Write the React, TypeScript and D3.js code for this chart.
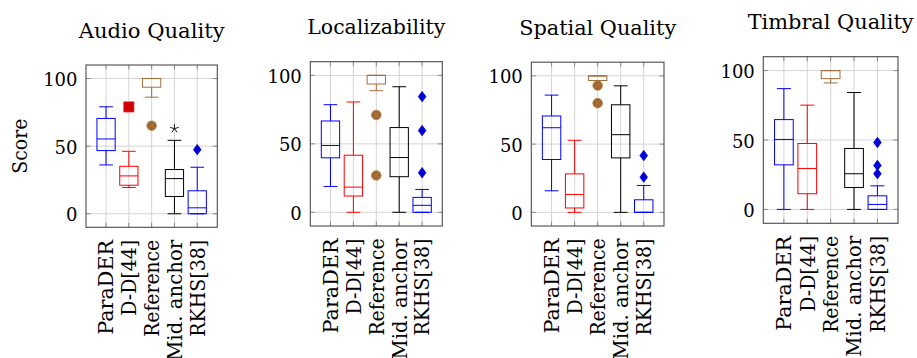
import React from "react";
import * as d3 from "d3";

const categories = ["ParaDER", "D-D[44]", "Reference", "Mid. anchor", "RKHS[38]"];
const yTicks = [0, 50, 100];
const titles = ["Audio Quality", "Localizability", "Spatial Quality", "Timbral Quality"];

// Audio Quality
const aqLower = [36.1, 19.4, 86.2, 0, 0];
const aqQ1 = [46.7, 21.1, 93.6, 12.8, 0];
const aqMedian = [55.3, 28, 100, 26, 4.4];
const aqQ3 = [70.5, 35.1, 100, 32.7, 17];
const aqUpper = [79.1, 46.2, 100, 54.3, 34.4];
const aqOutliers = [[], [79], [65.1], [62.9], [47.4]];

// Localizability
const loLower = [18.9, 0, 88.8, 0, 0];
const loQ1 = [39.8, 11.9, 93.7, 26, 0];
const loMedian = [48.8, 18.4, 100, 40, 5.1];
const loQ3 = [66.7, 41.7, 100, 61.9, 10.9];
const loUpper = [78.6, 80.6, 100, 91.7, 16.7];
const loOutliers = [[], [], [71.1, 26.9], [], [84.5, 59.7, 28.9]];

// Spatial Quality
const spLower = [15.8, 0, 96.6, 0, 0];
const spQ1 = [38.7, 3.2, 96.6, 39.9, 0];
const spMedian = [62, 13.1, 100, 56.9, 0];
const spQ3 = [70.6, 28.2, 100, 78.8, 9.2];
const spUpper = [85.9, 52.8, 100, 92.7, 19.7];
const spOutliers = [[], [], [92.9, 80], [], [41.6, 25.8]];

// Timbral Quality
const tiLower = [0, 0, 91.1, 0, 0];
const tiQ1 = [32.1, 11.3, 94.2, 15.8, 0];
const tiMedian = [50.4, 29.5, 100, 25.7, 3.6];
const tiQ3 = [64.7, 47.5, 100, 43.9, 9.8];
const tiUpper = [87, 75.1, 100, 84.2, 17];
const tiOutliers = [[], [], [], [], [48.2, 31.7, 25.7]];

const panelData = [
  { lower: aqLower, q1: aqQ1, median: aqMedian, q3: aqQ3, upper: aqUpper, outliers: aqOutliers },
  { lower: loLower, q1: loQ1, median: loMedian, q3: loQ3, upper: loUpper, outliers: loOutliers },
  { lower: spLower, q1: spQ1, median: spMedian, q3: spQ3, upper: spUpper, outliers: spOutliers },
  { lower: tiLower, q1: tiQ1, median: tiMedian, q3: tiQ3, upper: tiUpper, outliers: tiOutliers },
];

const frames = [
  { left: 86, top: 65, width: 131.3, height: 162.3 },
  { left: 310.3, top: 61.7, width: 132, height: 164.3 },
  { left: 531.3, top: 62.2, width: 132.7, height: 163.8 },
  { left: 763.3, top: 56.7, width: 134.7, height: 166.6 },
];

const titleLengths = [146, 138, 157, 166];
const labelLengths = [95, 76, 97, 121, 97];

const strokeColors = ["#0000ff", "#ff0000", "#a26d3a", "#000000", "#0000ff"];
const markStroke = ["#0000ff", "#ff0000", "#bf8040", "#000000", "#0000ff"];
const markFill = ["#0000cc", "#cc0000", "#996633", "#000000", "#0000cc"];
const FONT_CSS = `text { font-family: "DejaVu Serif", "Liberation Serif", "Times New Roman", serif; }`;
const TITLE_FS = 20;
const TICK_FS = 18;
const LABEL_FS = 20;

function Marker({ kind, x, y, i }: { kind: number; x: number; y: number; i: number }) {
  const s = markStroke[i];
  const f = markFill[i];
  if (kind === 1) {
    return <rect x={x - 5} y={y - 5} width={10} height={10} fill={f} stroke={s} strokeWidth={0.8} />;
  }
  if (kind === 2) {
    const r = 4.8;
    const c = r * Math.SQRT1_2;
    return (
      <g>
        <circle cx={x} cy={y} r={r} fill={f} stroke={s} strokeWidth={0.8} />
        <path d={`M${x - c},${y - c}L${x + c},${y + c}M${x - c},${y + c}L${x + c},${y - c}`} stroke={s} strokeWidth={0.8} />
      </g>
    );
  }
  if (kind === 3) {
    const r = 4.5;
    const pts = d3.range(5).map((k) => {
      const a = -Math.PI / 2 + (k * 2 * Math.PI) / 5;
      return `M${x},${y}L${x + r * Math.cos(a)},${y + r * Math.sin(a)}`;
    });
    return <path d={pts.join("")} stroke="#000" strokeWidth={0.9} fill="none" />;
  }
  if (kind === 4) {
    const w = 3.8;
    const h = 5.2;
    return <path d={`M${x},${y - h}L${x + w},${y}L${x},${y + h}L${x - w},${y}Z`} fill={f} stroke={s} strokeWidth={0.8} />;
  }
  return <circle cx={x} cy={y} r={4} fill={f} stroke={s} />;
}

function Panel({ idx }: { idx: number }) {
  const fr = frames[idx];
  const data = panelData[idx];
  const x = d3.scaleLinear().domain([0.12, 5.88]).range([fr.left, fr.left + fr.width]);
  const y = d3.scaleLinear().domain([-10, 110]).range([fr.top + fr.height, fr.top]);
  const unit = x(2) - x(1);
  const bw = unit * 0.8;
  const cw = unit * 0.6;
  const positions = categories.map((_, i) => i + 1);
  const bottom = fr.top + fr.height;
  const right = fr.left + fr.width;
  return (
    <g>
      <text
        x={fr.left + fr.width / 2}
        y={fr.top - 27.5}
        textAnchor="middle"
        fontSize={TITLE_FS}
        textLength={titleLengths[idx]}
        lengthAdjust="spacingAndGlyphs"
      >
        {titles[idx]}
      </text>
      {positions.map((p) => (
        <line key={"vg" + p} x1={x(p)} x2={x(p)} y1={fr.top} y2={bottom} stroke="#d4d4d4" strokeWidth={1} />
      ))}
      {yTicks.map((t) => (
        <line key={"hg" + t} x1={fr.left} x2={right} y1={y(t)} y2={y(t)} stroke="#d4d4d4" strokeWidth={1} />
      ))}
      {yTicks.map((t) => (
        <g key={"yt" + t}>
          <line x1={fr.left} x2={fr.left + 4.5} y1={y(t)} y2={y(t)} stroke="#8a8a8a" strokeWidth={1} />
          <line x1={right - 4.5} x2={right} y1={y(t)} y2={y(t)} stroke="#8a8a8a" strokeWidth={1} />
          <text x={fr.left - 8.5} y={y(t)} dy={7.6} textAnchor="end" fontSize={TICK_FS}>
            {t}
          </text>
        </g>
      ))}
      {positions.map((p) => (
        <g key={"xt" + p}>
          <line x1={x(p)} x2={x(p)} y1={bottom} y2={bottom - 4.5} stroke="#8a8a8a" strokeWidth={1} />
          <line x1={x(p)} x2={x(p)} y1={fr.top} y2={fr.top + 4.5} stroke="#8a8a8a" strokeWidth={1} />
        </g>
      ))}
      {positions.map((p, i) => {
        const c = strokeColors[i];
        const cx = x(p);
        return (
          <g key={"box" + i} stroke={c} strokeWidth={1} fill="none">
            <line x1={cx} x2={cx} y1={y(data.upper[i])} y2={y(data.q3[i])} />
            <line x1={cx} x2={cx} y1={y(data.q1[i])} y2={y(data.lower[i])} />
            <line x1={cx - cw / 2} x2={cx + cw / 2} y1={y(data.upper[i])} y2={y(data.upper[i])} />
            <line x1={cx - cw / 2} x2={cx + cw / 2} y1={y(data.lower[i])} y2={y(data.lower[i])} />
            <rect x={cx - bw / 2} y={y(data.q3[i])} width={bw} height={Math.max(0, y(data.q1[i]) - y(data.q3[i]))} />
            <line x1={cx - bw / 2} x2={cx + bw / 2} y1={y(data.median[i])} y2={y(data.median[i])} />
          </g>
        );
      })}
      {positions.map((p, i) =>
        data.outliers[i].map((v, k) => <Marker key={`o${i}-${k}`} kind={i} x={x(p)} y={y(v)} i={i} />)
      )}
      <rect x={fr.left} y={fr.top} width={fr.width} height={fr.height} fill="none" stroke="#4a4a4a" strokeWidth={1.1} />
      {positions.map((p, i) => (
        <text
          key={"cl" + i}
          transform={`translate(${x(p)},${bottom + 12.5}) rotate(-90)`}
          textAnchor="end"
          dy={7.3}
          fontSize={LABEL_FS}
          textLength={labelLengths[i]}
          lengthAdjust="spacingAndGlyphs"
        >
          {categories[i]}
        </text>
      ))}
      {idx === 0 && (
        <text
          transform={`translate(26.5,${fr.top + fr.height / 2}) rotate(-90)`}
          textAnchor="middle"
          fontSize={LABEL_FS}
          textLength={55}
          lengthAdjust="spacingAndGlyphs"
        >
          Score
        </text>
      )}
    </g>
  );
}

export default function App() {
  return (
    <svg
      width={917}
      height={358}
      viewBox="0 0 917 358"
      style={{ position: "absolute", left: 0, top: 0, background: "#fff" }}
    >
      <style>{FONT_CSS}</style>
      <rect width={917} height={358} fill="#fff" />
      {[0, 1, 2, 3].map((i) => (
        <Panel key={i} idx={i} />
      ))}
    </svg>
  );
}
